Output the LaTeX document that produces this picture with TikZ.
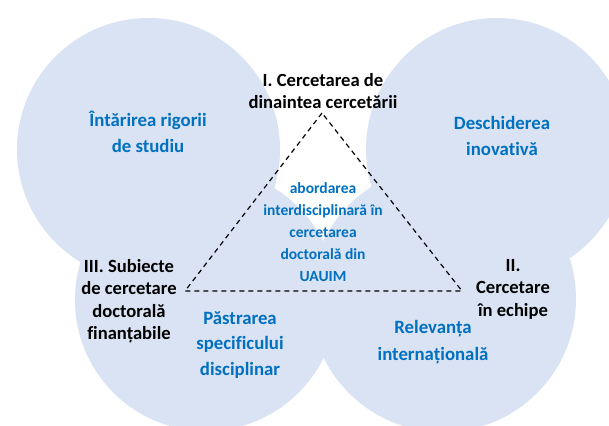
\documentclass[tikz,border=0pt]{standalone}
\usepackage{fontspec}
\setmainfont[Ligatures={NoCommon}]{Carlito}
\definecolor{circfill}{RGB}{218,227,243}
\definecolor{txtblue}{RGB}{0,112,192}
\begin{document}
\begin{tikzpicture}[x=1pt,y=-1pt,
  blob/.style={fill=circfill,draw=none},
  vlabel/.style={align=center,font=\bfseries\fontsize{18.6}{22.5}\selectfont,text=black,inner sep=0pt},
  blabel/.style={align=center,font=\bfseries\fontsize{18.8}{26.5}\selectfont,text=txtblue,inner sep=0pt},
  clabel/.style={align=center,font=\bfseries\fontsize{15.5}{22}\selectfont,text=txtblue,inner sep=0pt},
  tri/.style={dashed,dash pattern=on 5pt off 4pt,line width=1.2pt,black}]
\useasboundingbox (0,0) rectangle (609,425);
\fill[white] (0,0) rectangle (609,425);
% circles
\fill[blob] (148.5,149.5) circle[radius=131.5pt];
\fill[blob] (497,149) circle[radius=131pt];
\fill[blob] (206,300) circle[radius=131pt];
\fill[blob] (443,299) circle[radius=133pt];
% triangle
\coordinate (vtop) at (322,113);
\coordinate (vleft) at (185,291);
\coordinate (vright) at (462,291);
\draw[tri] (vtop) -- (vleft) -- (vright) -- cycle;
% labels
\node[vlabel] (l1) at (323,91) {I. Cercetarea de\\dinaintea cercetării};
\node[vlabel] (l2) at (513,289) {II.\\Cercetare\\în echipe};
\node[vlabel] (l3) at (129,301) {III. Subiecte\\de cercetare\\doctorală\\finanțabile};
\node[blabel] (b1) at (148,132) {Întărirea rigorii\\de studiu};
\node[blabel] (b2) at (502,136) {Deschiderea\\inovativă};
\node[blabel,font=\bfseries\fontsize{18.8}{25.5}\selectfont] (b3) at (240,345) {Păstrarea\\specificului\\disciplinar};
\node[blabel] (b4) at (433,342) {Relevanța\\internațională};
\node[clabel] (c) at (323,232) {abordarea\\interdisciplinară în\\cercetarea\\doctorală din\\UAUIM};
\end{tikzpicture}
\end{document}
